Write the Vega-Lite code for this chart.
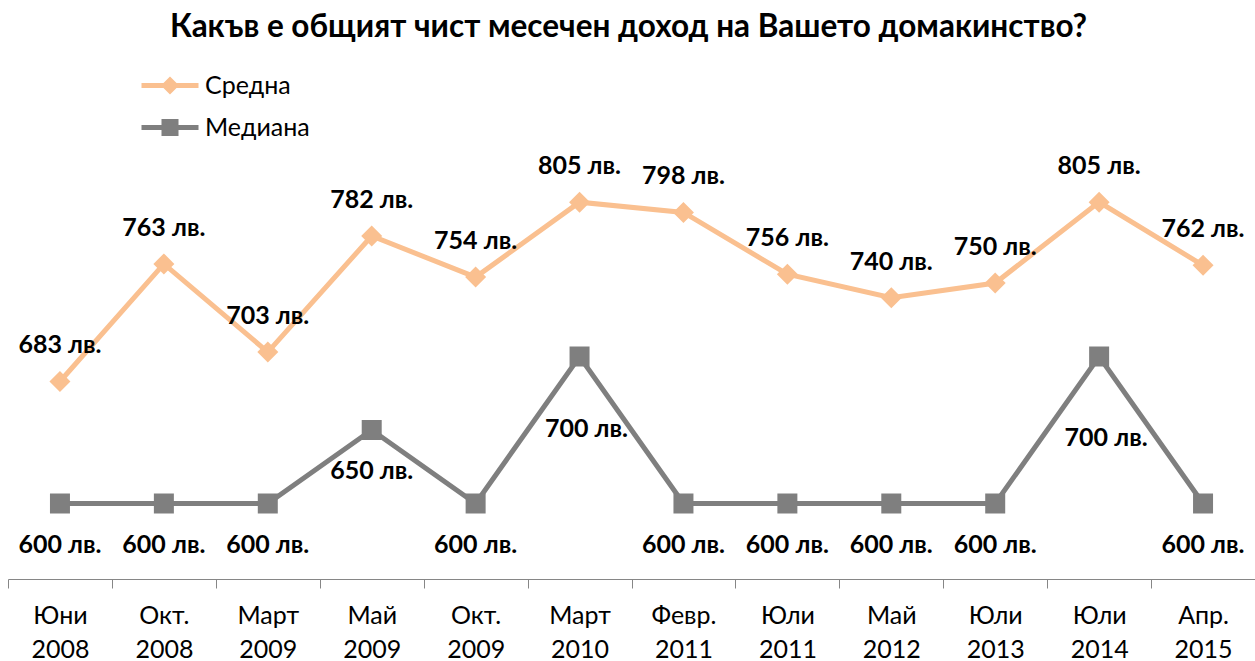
{
  "$schema": "https://vega.github.io/schema/vega-lite/v6.json",
  "autosize": {"type": "none"},
  "padding": {"left": 8, "top": 136, "right": 0, "bottom": 84},
  "width": 1247,
  "height": 441,
  "background": "white",
  "config": {"view": {"stroke": null}, "font": "Lato"},
  "title": {
    "text": "Какъв е общият чист месечен доход на Вашето домакинство?",
    "font": "Lato",
    "fontSize": 31.5,
    "fontWeight": "bold",
    "color": "black",
    "frame": "group",
    "anchor": "middle",
    "baseline": "alphabetic",
    "offset": 5,
    "dx": -3
  },
  "data": {
    "values": [
      {"cat": "Юни 2008", "series": "Средна", "value": 683},
      {"cat": "Окт. 2008", "series": "Средна", "value": 763},
      {"cat": "Март 2009", "series": "Средна", "value": 703},
      {"cat": "Май 2009", "series": "Средна", "value": 782},
      {"cat": "Окт. 2009", "series": "Средна", "value": 754},
      {"cat": "Март 2010", "series": "Средна", "value": 805},
      {"cat": "Февр. 2011", "series": "Средна", "value": 798},
      {"cat": "Юли 2011", "series": "Средна", "value": 756},
      {"cat": "Май 2012", "series": "Средна", "value": 740},
      {"cat": "Юли 2013", "series": "Средна", "value": 750},
      {"cat": "Юли 2014", "series": "Средна", "value": 805},
      {"cat": "Апр. 2015", "series": "Средна", "value": 762},
      {"cat": "Юни 2008", "series": "Медиана", "value": 600},
      {"cat": "Окт. 2008", "series": "Медиана", "value": 600},
      {"cat": "Март 2009", "series": "Медиана", "value": 600},
      {"cat": "Май 2009", "series": "Медиана", "value": 650},
      {"cat": "Окт. 2009", "series": "Медиана", "value": 600},
      {"cat": "Март 2010", "series": "Медиана", "value": 700},
      {"cat": "Февр. 2011", "series": "Медиана", "value": 600},
      {"cat": "Юли 2011", "series": "Медиана", "value": 600},
      {"cat": "Май 2012", "series": "Медиана", "value": 600},
      {"cat": "Юли 2013", "series": "Медиана", "value": 600},
      {"cat": "Юли 2014", "series": "Медиана", "value": 700},
      {"cat": "Апр. 2015", "series": "Медиана", "value": 600}
    ]
  },
  "encoding": {
    "x": {
      "field": "cat",
      "type": "nominal",
      "sort": null,
      "scale": {"type": "band", "paddingInner": 0, "paddingOuter": 0},
      "axis": {
        "title": null,
        "orient": "bottom",
        "offset": 2,
        "labelAngle": 0,
        "labelExpr": "split(datum.label, ' ')",
        "labelFont": "Lato",
        "labelFontSize": 25,
        "labelColor": "black",
        "labelLineHeight": 34,
        "labelPadding": 15,
        "domainColor": "#868686",
        "domainWidth": 1,
        "tickColor": "#868686",
        "tickSize": 9,
        "tickWidth": 1,
        "tickBand": "extent",
        "grid": false
      }
    },
    "y": {
      "field": "value",
      "type": "quantitative",
      "scale": {"domain": [550, 850], "zero": false, "nice": false},
      "axis": null
    },
    "color": {
      "field": "series",
      "type": "nominal",
      "scale": {"domain": ["Средна", "Медиана"], "range": ["#FAC090", "#7F7F7F"]},
      "legend": {
        "orient": "none",
        "legendX": 168,
        "legendY": -63,
        "title": null,
        "labelFont": "Lato",
        "labelFontSize": 25,
        "labelColor": "black",
        "symbolSize": 400,
        "labelOffset": 4,
        "rowPadding": 10,
        "encode": {
          "symbols": {
            "update": {
              "shape": {"signal": "datum.value === 'Средна' ? 'M-4.7,0L1,0M-1.85,-0.55L-1.3,0L-1.85,0.55L-2.4,0Z' : 'M-4.7,0L1,0M-2.45,-0.6L-1.25,-0.6L-1.25,0.6L-2.45,0.6Z'"},
              "fill": {"scale": "color", "field": "value"},
              "stroke": {"scale": "color", "field": "value"},
              "strokeWidth": {"value": 5},
              "opacity": {"value": 1},
              "fillOpacity": {"value": 1},
              "strokeOpacity": {"value": 1}
            }
          }
        }
      }
    }
  },
  "layer": [
    {
      "mark": {"type": "line", "strokeWidth": 5},
      "encoding": {"detail": {"field": "series"}}
    },
    {
      "transform": [{"filter": "datum.series === 'Средна'"}],
      "mark": {"type": "point", "shape": "diamond", "size": 441, "filled": true, "opacity": 1}
    },
    {
      "transform": [{"filter": "datum.series === 'Медиана'"}],
      "mark": {"type": "point", "shape": "square", "size": 400, "filled": true, "opacity": 1}
    },
    {
      "transform": [{"filter": "datum.series === 'Средна'"}],
      "mark": {"type": "text", "font": "Lato", "fontSize": 25, "fontWeight": "bold", "color": "black", "baseline": "middle", "dy": -36, "text": {"expr": "datum.value + ' лв.'"}},
      "encoding": {"color": {"value": "black"}}
    },
    {
      "transform": [{"filter": "datum.series === 'Медиана' && datum.value < 700"}],
      "mark": {"type": "text", "font": "Lato", "fontSize": 25, "fontWeight": "bold", "color": "black", "baseline": "middle", "dy": 41, "text": {"expr": "datum.value + ' лв.'"}},
      "encoding": {"color": {"value": "black"}}
    },
    {
      "transform": [{"filter": "datum.series === 'Медиана' && datum.cat === 'Март 2010'"}],
      "mark": {"type": "text", "font": "Lato", "fontSize": 25, "fontWeight": "bold", "color": "black", "baseline": "middle", "dy": 72, "dx": 7, "text": {"expr": "datum.value + ' лв.'"}},
      "encoding": {"color": {"value": "black"}}
    },
    {
      "transform": [{"filter": "datum.series === 'Медиана' && datum.cat === 'Юли 2014'"}],
      "mark": {"type": "text", "font": "Lato", "fontSize": 25, "fontWeight": "bold", "color": "black", "baseline": "middle", "dy": 81, "dx": 7, "text": {"expr": "datum.value + ' лв.'"}},
      "encoding": {"color": {"value": "black"}}
    }
  ]
}
